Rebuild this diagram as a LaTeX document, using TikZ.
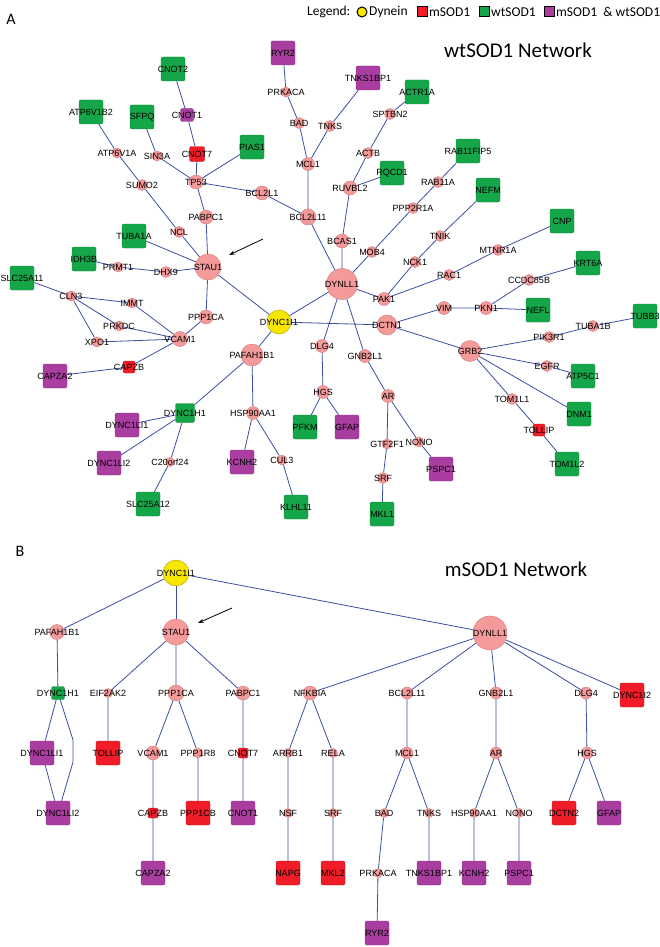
\documentclass[tikz,border=0pt]{standalone}
\usepackage{fontspec}
\setmainfont{Liberation Sans}
\newfontfamily\calibri{Carlito}
\usetikzlibrary{arrows.meta,backgrounds}
\definecolor{genepink}{RGB}{244,154,154}
\definecolor{pinkline}{RGB}{214,122,122}
\definecolor{dynyellow}{RGB}{246,230,0}
\definecolor{mutred}{RGB}{240,28,40}
\definecolor{wtgreen}{RGB}{20,166,72}
\definecolor{bothpurple}{RGB}{170,62,160}
\definecolor{edgeblue}{RGB}{58,78,165}

\tikzset{
  every label/.style={font=\fontsize{9}{9}\selectfont, inner sep=0pt, text=black},
  gene/.style={circle, fill=genepink, draw=pinkline, line width=0.4pt, inner sep=0pt, minimum size=#1},
  gene/.default=11pt,
  dynein/.style={circle, fill=dynyellow, draw=dynyellow!70!black, line width=0.4pt, inner sep=0pt, minimum size=#1},
  sq/.style={rectangle, rounded corners=2pt, inner sep=0pt, line width=0.4pt, minimum size=#1},
  mut/.style={sq=#1, fill=mutred, draw=mutred!80!black},
  mut/.default=24pt,
  wt/.style={sq=#1, fill=wtgreen, draw=wtgreen!80!black},
  wt/.default=24pt,
  both/.style={sq=#1, fill=bothpurple, draw=bothpurple!80!black},
  both/.default=24pt,
  edge/.style={draw=edgeblue, line width=0.8pt},
  keybox/.style={rectangle, draw=black, line width=1pt, inner sep=0pt, minimum size=10pt},
  pointer/.style={-{Stealth[length=6pt,width=4pt]}, line width=0.8pt},
}

\begin{document}
\begin{tikzpicture}[x=1pt, y=-1pt]
\useasboundingbox (0,0) rectangle (660,947);

% legend and titles
\node[anchor=west, font=\calibri\fontsize{13.5}{14}\selectfont, inner sep=0pt] (lgd) at (307,12) {Legend:};
\node[circle, fill=dynyellow, draw=black, line width=1pt, inner sep=0pt, minimum size=10pt] (lgdDyn) at (362,12) {};
\node[anchor=west, font=\calibri\fontsize{13.5}{14}\selectfont, inner sep=0pt] (lgdDynT) at (369,12) {Dynein};
\node[keybox, fill=mutred] (lgdMut) at (422,12) {};
\node[anchor=west, font=\calibri\fontsize{13.5}{14}\selectfont, inner sep=0pt] (lgdMutT) at (429,12) {mSOD1};
\node[keybox, fill=wtgreen] (lgdWt) at (484,12) {};
\node[anchor=west, font=\calibri\fontsize{13.5}{14}\selectfont, inner sep=0pt] (lgdWtT) at (491,12) {wtSOD1};
\node[keybox, fill=bothpurple] (lgdBoth) at (549,12) {};
\node[anchor=west, font=\calibri\fontsize{13.5}{14}\selectfont, inner sep=0pt] (lgdBothT) at (556,12) {mSOD1 \ \& wtSOD1};
\node[font=\calibri\fontsize{16}{16}\selectfont] (panA) at (11,19) {A};
\node[font=\calibri\fontsize{16}{16}\selectfont] (panB) at (20,551) {B};
\node[font=\calibri\fontsize{21}{21}\selectfont] (titleA) at (518,50) {wtSOD1 Network};
\node[font=\calibri\fontsize{21}{21}\selectfont] (titleB) at (516,569) {mSOD1 Network};

% panel A: genes
\node[gene=10pt, label=center:PRKACA] (aPRKACA) at (286,92) {};
\node[gene, label=center:BAD] (aBAD) at (299,123) {};
\node[gene=13pt, label=center:MCL1] (aMCL1) at (308,164) {};
\node[gene, label=center:TNKS] (aTNKS) at (330,126) {};
\node[gene=16pt, label=center:BCL2L11] (aBCL2L11) at (308,217) {};
\node[gene=14pt, label=center:BCL2L1] (aBCL2L1) at (262,193) {};
\node[gene=14pt, label=center:TP53] (aTP53) at (196,182) {};
\node[gene=10pt, label=center:ATP6V1A] (aATP6V1A) at (117,153) {};
\node[gene=10pt, label=center:SIN3A] (aSIN3A) at (157,156) {};
\node[gene, label=center:SUMO2] (aSUMO2) at (142,185) {};
\node[gene=14pt, label=center:PABPC1] (aPABPC1) at (206,217) {};
\node[gene, label=center:NCL] (aNCL) at (179,232) {};
\node[gene, label=center:SPTBN2] (aSPTBN2) at (390,114) {};
\node[gene, label=center:ACTB] (aACTB) at (368,153) {};
\node[gene=14pt, label=center:RUVBL2] (aRUVBL2) at (350,188) {};
\node[gene, label=center:RAB11A] (aRAB11A) at (438,182) {};
\node[gene, label=center:PPP2R1A] (aPPP2R1A) at (413,208) {};
\node[gene, label=center:TNIK] (aTNIK) at (440,236) {};
\node[gene=14pt, label=center:BCAS1] (aBCAS1) at (342,241) {};
\node[gene, label=center:MTNR1A] (aMTNR1A) at (498,250) {};
\node[gene=10pt, label=center:PRMT1] (aPRMT1) at (118,267) {};
\node[gene, label=center:DHX9] (aDHX9) at (166,272) {};
\node[gene=26pt, label=center:STAU1] (aSTAU1) at (208,267) {};
\node[gene=10pt, label=center:CLN3] (aCLN3) at (71,296) {};
\node[gene=10pt, label=center:IMMT] (aIMMT) at (132,303) {};
\node[gene=10pt, label=center:PRKDC] (aPRKDC) at (119,326) {};
\node[gene=10pt, label=center:XPO1] (aXPO1) at (97,342) {};
\node[gene=15pt, label=center:VCAM1] (aVCAM1) at (180,339) {};
\node[gene=14pt, label=center:PPP1CA] (aPPP1CA) at (206,317) {};
\node[gene=22pt, label=center:PAFAH1B1] (aPAFAH1B1) at (252,355) {};
\node[gene=13pt, label=center:HSP90AA1] (aHSP90AA1) at (253,413) {};
\node[gene=13pt, label=center:DLG4] (aDLG4) at (322,346) {};
\node[gene=13pt, label=center:HGS] (aHGS) at (323,392) {};
\node[gene=31pt, label=center:DYNLL1] (aDYNLL1) at (342,284) {};
\node[gene, label=center:MOB4] (aMOB4) at (372,252) {};
\node[gene, label=center:NCK1] (aNCK1) at (415,262) {};
\node[gene, label=center:RAC1] (aRAC1) at (449,275) {};
\node[gene=13pt, label=center:PAK1] (aPAK1) at (384,299) {};
\node[gene=13pt, label=center:VIM] (aVIM) at (444,308) {};
\node[gene=20pt, label=center:DCTN1] (aDCTN1) at (387,325) {};
\node[gene=13pt, label=center:GNB2L1] (aGNB2L1) at (365,356) {};
\node[gene=13pt, label=center:AR] (aAR) at (388,396) {};
\node[gene=10pt, label=center:GTF2F1] (aGTF2F1) at (387,444) {};
\node[gene=10pt, label=center:NONO] (aNONO) at (419,442) {};
\node[gene, label=center:SRF] (aSRF) at (383,478) {};
\node[gene=10pt, label=center:CUL3] (aCUL3) at (282,460) {};
\node[gene=9pt, label=center:C20orf24] (aC20orf24) at (170,462) {};
\node[gene, label=center:CCDC85B] (aCCDC85B) at (529,280) {};
\node[gene=13pt, label=center:PKN1] (aPKN1) at (486,308) {};
\node[gene, label=center:TUBA1B] (aTUBA1B) at (593,326) {};
\node[gene, label=center:PIK3R1] (aPIK3R1) at (549,337) {};
\node[gene=21pt, label=center:GRB2] (aGRB2) at (470,351) {};
\node[gene, label=center:EGFR] (aEGFR) at (547,366) {};
\node[gene, label=center:TOM1L1] (aTOM1L1) at (512,399) {};
\node[dynein=24pt, label=center:DYNC1I1] (aDYNC1I1) at (279,322) {};
% panel A: wtSOD1 partners
\node[wt, label=center:CNOT2] (aCNOT2) at (173,69) {};
\node[wt, label=center:SFPQ] (aSFPQ) at (142,117) {};
\node[wt, label=center:ATP6V1B2] (aATP6V1B2) at (91,112) {};
\node[wt, label=center:PIAS1] (aPIAS1) at (252,147) {};
\node[wt, label=center:ACTR1A] (aACTR1A) at (417,92) {};
\node[wt, label=center:RQCD1] (aRQCD1) at (392,173) {};
\node[wt, label=center:RAB11FIP5] (aRAB11FIP5) at (468,151) {};
\node[wt, label=center:NEFM] (aNEFM) at (488,190) {};
\node[wt, label=center:CNP] (aCNP) at (562,221) {};
\node[wt, label=center:TUBA1A] (aTUBA1A) at (134,236) {};
\node[wt, label=center:IDH3B] (aIDH3B) at (84,259) {};
\node[wt, label=center:SLC25A11] (aSLC25A11) at (22,278) {};
\node[wt, label=center:KRT6A] (aKRT6A) at (588,263) {};
\node[wt, label=center:NEFL] (aNEFL) at (538,310) {};
\node[wt, label=center:TUBB3] (aTUBB3) at (645,316) {};
\node[wt, label=center:ATP5C1] (aATP5C1) at (583,376) {};
\node[wt, label=center:DNM1] (aDNM1) at (579,414) {};
\node[wt, label=center:PFKM] (aPFKM) at (305,427) {};
\node[wt, label=center:TOM1L2] (aTOM1L2) at (567,464) {};
\node[wt, label=center:MKL1] (aMKL1) at (382,514) {};
\node[wt, label=center:KLHL11] (aKLHL11) at (296,507) {};
\node[wt, label=center:SLC25A12] (aSLC25A12) at (148,504) {};
\node[wt=19pt, label=center:DYNC1H1] (aDYNC1H1) at (185,413) {};
% panel A: shared and mSOD1 partners
\node[both, label=center:RYR2] (aRYR2) at (283,53) {};
\node[both, label=center:TNKS1BP1] (aTNKS1BP1) at (368,78) {};
\node[both, label=center:CAPZA2] (aCAPZA2) at (55,376) {};
\node[both, label=center:DYNC1LI1] (aDYNC1LI1) at (127,425) {};
\node[both, label=center:DYNC1LI2] (aDYNC1LI2) at (109,463) {};
\node[both, label=center:KCNH2] (aKCNH2) at (242,462) {};
\node[both, label=center:GFAP] (aGFAP) at (347,427) {};
\node[both, label=center:PSPC1] (aPSPC1) at (441,469) {};
\node[both=13pt, label=center:CNOT1] (aCNOT1) at (187,115) {};
\node[mut=15pt, label=center:CNOT7] (aCNOT7) at (197,154) {};
\node[mut=12pt, label=center:CAPZB] (aCAPZB) at (129,367) {};
\node[mut=12pt, label=center:TOLLIP] (aTOLLIP) at (539,430) {};

% panel B
\node[dynein=26pt, label=center:DYNC1I1] (bDYNC1I1) at (176,573) {};
\node[gene=15pt, label=center:PAFAH1B1] (bPAFAH1B1) at (57,632) {};
\node[gene=26pt, label=center:STAU1] (bSTAU1) at (176,632) {};
\node[gene=34pt, label=center:DYNLL1] (bDYNLL1) at (490,633) {};
\node[wt=13pt, label=center:DYNC1H1] (bDYNC1H1) at (58,693) {};
\node[gene=9pt, label=center:EIF2AK2] (bEIF2AK2) at (108,693) {};
\node[gene=16pt, label=center:PPP1CA] (bPPP1CA) at (176,693) {};
\node[gene=14pt, label=center:PABPC1] (bPABPC1) at (243,693) {};
\node[gene=14pt, label=center:NFKBIA] (bNFKBIA) at (310,693) {};
\node[gene=12pt, label=center:BCL2L11] (bBCL2L11) at (407,693) {};
\node[gene=12pt, label=center:GNB2L1] (bGNB2L1) at (496,693) {};
\node[gene=12pt, label=center:DLG4] (bDLG4) at (586,693) {};
\node[mut, label=center:DYNC1I2] (bDYNC1I2) at (632,695) {};
\node[both, label=center:DYNC1LI1] (bDYNC1LI1) at (42,753) {};
\node[mut, label=center:TOLLIP] (bTOLLIP) at (108,753) {};
\node[gene=14pt, label=center:VCAM1] (bVCAM1) at (153,753) {};
\node[gene=10pt, label=center:PPP1R8] (bPPP1R8) at (198,753) {};
\node[mut=10pt, label=center:CNOT7] (bCNOT7) at (243,753) {};
\node[gene=9pt, label=center:ARRB1] (bARRB1) at (288,753) {};
\node[gene=9pt, label=center:RELA] (bRELA) at (333,753) {};
\node[gene=12pt, label=center:MCL1] (bMCL1) at (407,753) {};
\node[gene=12pt, label=center:AR] (bAR) at (496,753) {};
\node[gene=12pt, label=center:HGS] (bHGS) at (587,753) {};
\node[both, label=center:DYNC1LI2] (bDYNC1LI2) at (58,813) {};
\node[mut=10pt, label=center:CAPZB] (bCAPZB) at (153,813) {};
\node[mut, label=center:PPP1CB] (bPPP1CB) at (198,813) {};
\node[both, label=center:CNOT1] (bCNOT1) at (243,813) {};
\node[gene=9pt, label=center:NSF] (bNSF) at (288,813) {};
\node[gene=9pt, label=center:SRF] (bSRF) at (333,813) {};
\node[gene=9pt, label=center:BAD] (bBAD) at (384,813) {};
\node[gene=9pt, label=center:TNKS] (bTNKS) at (429,813) {};
\node[gene=9pt, label=center:HSP90AA1] (bHSP90AA1) at (474,813) {};
\node[gene=9pt, label=center:NONO] (bNONO) at (519,813) {};
\node[mut, label=center:DCTN2] (bDCTN2) at (564,813) {};
\node[both, label=center:GFAP] (bGFAP) at (609,813) {};
\node[both, label=center:CAPZA2] (bCAPZA2) at (153,873) {};
\node[mut, label=center:NAPG] (bNAPG) at (288,873) {};
\node[mut, label=center:MKL2] (bMKL2) at (333,873) {};
\node[gene=9pt, label=center:PRKACA] (bPRKACA) at (378,873) {};
\node[both, label=center:TNKS1BP1] (bTNKS1BP1) at (429,873) {};
\node[both, label=center:KCNH2] (bKCNH2) at (474,873) {};
\node[both, label=center:PSPC1] (bPSPC1) at (519,873) {};
\node[both, label=center:RYR2] (bRYR2) at (377,933) {};
\coordinate (bBendA) at (73,740);
\coordinate (bBendB) at (73,762);

% pointers to STAU1
\coordinate (arrAs) at (263,239);
\coordinate (arrAe) at (229,255);
\coordinate (arrBs) at (232,608);
\coordinate (arrBe) at (198,623);
\draw[pointer] (arrAs) -- (arrAe);
\draw[pointer] (arrBs) -- (arrBe);

\begin{scope}[on background layer]
% panel A edges
\draw[edge] (aRYR2) -- (aPRKACA) -- (aBAD) -- (aMCL1) -- (aBCL2L11) -- (aDYNLL1);
\draw[edge] (aMCL1) -- (aTNKS) -- (aTNKS1BP1);
\draw[edge] (aBCL2L11) -- (aBCL2L1) -- (aTP53);
\draw[edge] (aCNOT2) -- (aCNOT1) -- (aCNOT7) -- (aTP53) -- (aPIAS1);
\draw[edge] (aSFPQ) -- (aSIN3A) -- (aTP53);
\draw[edge] (aTP53) -- (aPABPC1) -- (aSTAU1);
\draw[edge] (aATP6V1B2) -- (aATP6V1A) -- (aSUMO2) -- (aNCL) -- (aSTAU1);
\draw[edge] (aTUBA1A) -- (aSTAU1);
\draw[edge] (aIDH3B) -- (aPRMT1) -- (aDHX9) -- (aSTAU1);
\draw[edge] (aSTAU1) -- (aDYNC1I1);
\draw[edge] (aSTAU1) -- (aPPP1CA) -- (aVCAM1) -- (aCAPZB) -- (aCAPZA2);
\draw[edge] (aSLC25A11) -- (aCLN3) -- (aIMMT) -- (aVCAM1);
\draw[edge] (aCLN3) -- (aPRKDC) -- (aVCAM1);
\draw[edge] (aCLN3) -- (aXPO1) -- (aVCAM1);
\draw[edge] (aDYNC1I1) -- (aDYNLL1);
\draw[edge] (aDYNC1I1) -- (aDCTN1);
\draw[edge] (aDYNC1I1) -- (aPAFAH1B1) -- (aDYNC1H1) -- (aDYNC1LI1);
\draw[edge] (aDYNC1H1) -- (aDYNC1LI2);
\draw[edge] (aDYNC1H1) -- (aC20orf24) -- (aSLC25A12);
\draw[edge] (aPAFAH1B1) -- (aHSP90AA1) -- (aKCNH2);
\draw[edge] (aHSP90AA1) -- (aCUL3) -- (aKLHL11);
\draw[edge] (aDYNLL1) -- (aBCAS1) -- (aRUVBL2) -- (aACTB) -- (aSPTBN2) -- (aACTR1A);
\draw[edge] (aRUVBL2) -- (aRQCD1);
\draw[edge] (aDYNLL1) -- (aMOB4) -- (aPPP2R1A) -- (aRAB11A) -- (aRAB11FIP5);
\draw[edge] (aDYNLL1) -- (aPAK1) -- (aNCK1) -- (aTNIK) -- (aNEFM);
\draw[edge] (aPAK1) -- (aRAC1) -- (aMTNR1A) -- (aCNP);
\draw[edge] (aDYNLL1) -- (aDLG4) -- (aHGS) -- (aPFKM);
\draw[edge] (aHGS) -- (aGFAP);
\draw[edge] (aDYNLL1) -- (aGNB2L1) -- (aAR) -- (aGTF2F1) -- (aSRF) -- (aMKL1);
\draw[edge] (aAR) -- (aNONO) -- (aPSPC1);
\draw[edge] (aDCTN1) -- (aVIM) -- (aPKN1) -- (aNEFL);
\draw[edge] (aPKN1) -- (aCCDC85B) -- (aKRT6A);
\draw[edge] (aDCTN1) -- (aGRB2) -- (aPIK3R1) -- (aTUBA1B) -- (aTUBB3);
\draw[edge] (aGRB2) -- (aEGFR) -- (aATP5C1);
\draw[edge] (aGRB2) -- (aDNM1);
\draw[edge] (aGRB2) -- (aTOM1L1) -- (aTOLLIP) -- (aTOM1L2);
% panel B edges
\draw[edge] (bDYNC1I1) -- (bPAFAH1B1) -- (bDYNC1H1) -- (bDYNC1LI1) -- (bDYNC1LI2);
\draw[edge] (bDYNC1H1) -- (bBendA) -- (bBendB) -- (bDYNC1LI2);
\draw[edge] (bDYNC1I1) -- (bSTAU1);
\draw[edge] (bDYNC1I1) -- (bDYNLL1);
\draw[edge] (bSTAU1) -- (bEIF2AK2) -- (bTOLLIP);
\draw[edge] (bSTAU1) -- (bPPP1CA) -- (bVCAM1) -- (bCAPZB) -- (bCAPZA2);
\draw[edge] (bPPP1CA) -- (bPPP1R8) -- (bPPP1CB);
\draw[edge] (bSTAU1) -- (bPABPC1) -- (bCNOT7) -- (bCNOT1);
\draw[edge] (bDYNLL1) -- (bNFKBIA) -- (bARRB1) -- (bNSF) -- (bNAPG);
\draw[edge] (bNFKBIA) -- (bRELA) -- (bSRF) -- (bMKL2);
\draw[edge] (bDYNLL1) -- (bBCL2L11) -- (bMCL1) -- (bBAD) -- (bPRKACA) -- (bRYR2);
\draw[edge] (bMCL1) -- (bTNKS) -- (bTNKS1BP1);
\draw[edge] (bDYNLL1) -- (bGNB2L1) -- (bAR) -- (bHSP90AA1) -- (bKCNH2);
\draw[edge] (bAR) -- (bNONO) -- (bPSPC1);
\draw[edge] (bDYNLL1) -- (bDLG4) -- (bHGS) -- (bDCTN2);
\draw[edge] (bHGS) -- (bGFAP);
\draw[edge] (bDYNLL1) -- (bDYNC1I2);
\end{scope}
\end{tikzpicture}
\end{document}
